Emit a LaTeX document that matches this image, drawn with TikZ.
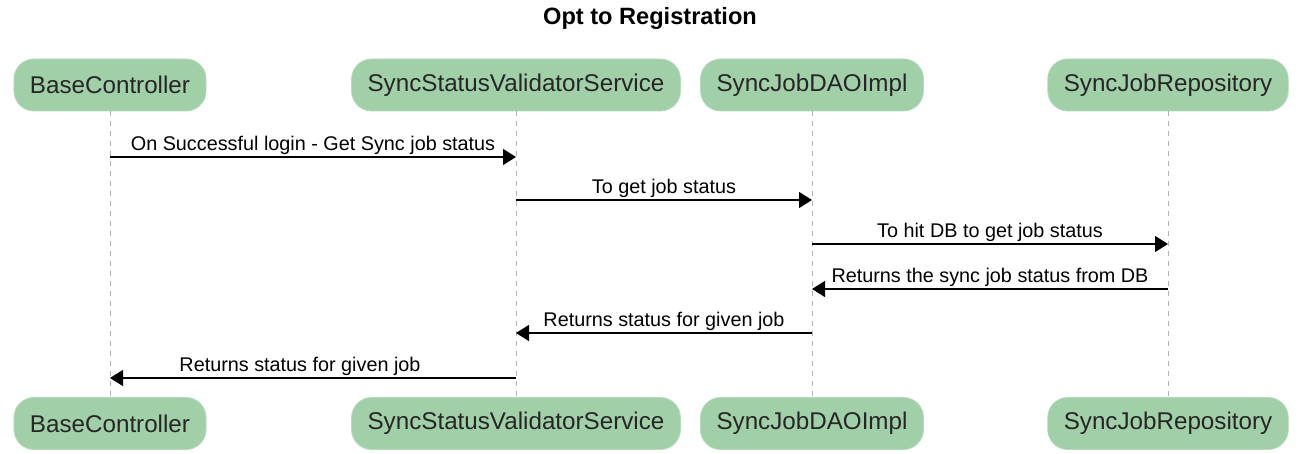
\documentclass[tikz,border=0pt]{standalone}
\usepackage{fontspec}
\setmainfont{Liberation Sans}
\usetikzlibrary{positioning,calc,arrows.meta}
\definecolor{partfill}{RGB}{161,207,168}
\definecolor{partline}{RGB}{180,219,186}
\definecolor{lifegray}{RGB}{178,178,178}
\tikzset{
  partbox/.style={draw=partline, fill=partfill, rounded corners=10pt, inner xsep=8pt,
    minimum height=26pt, font=\fontsize{12.1}{14}\selectfont, text=black!85},
  lifeline/.style={draw=lifegray, line width=0.5pt, dash pattern=on 2.5pt off 2.5pt},
  msgarrow/.style={-{Triangle[length=6.5pt,width=8pt]}, line width=0.7pt},
  msglabel/.style={above, inner sep=1pt, font=\fontsize{9.9}{12}\selectfont},
}

\begin{document}
\begin{tikzpicture}[x=0.5pt, y=-0.5pt]
\useasboundingbox (0,0) rectangle (1302,454);
\node[font=\bfseries\fontsize{11.8}{14}\selectfont] (title) at (650,18) {Opt to Registration};

% participants - top row
\node[partbox] (BC) at (110,85) {BaseController};
\node[partbox] (SSVS) at (516,85) {SyncStatusValidatorService};
\node[partbox] (DAO) at (812,85) {SyncJobDAOImpl};
\node[partbox] (REPO) at (1168,85) {SyncJobRepository};

% participants - bottom row
\node[partbox] (BCb) at (110,423.5) {BaseController};
\node[partbox] (SSVSb) at (516,423.5) {SyncStatusValidatorService};
\node[partbox] (DAOb) at (812,423.5) {SyncJobDAOImpl};
\node[partbox] (REPOb) at (1168,423.5) {SyncJobRepository};

% lifelines
\draw[lifeline] (BC.south) -- (BCb.north);
\draw[lifeline] (SSVS.south) -- (SSVSb.north);
\draw[lifeline] (DAO.south) -- (DAOb.north);
\draw[lifeline] (REPO.south) -- (REPOb.north);

% message rows
\foreach \i/\y in {1/157,2/200,3/244,4/289,5/333,6/378}
  \coordinate (m\i) at (0,\y);

% messages
\draw[msgarrow] (BC |- m1) -- node[msglabel] {On Successful login - Get Sync job status} (SSVS |- m1);
\draw[msgarrow] (SSVS |- m2) -- node[msglabel] {To get job status} (DAO |- m2);
\draw[msgarrow] (DAO |- m3) -- node[msglabel] {To hit DB to get job status} (REPO |- m3);
\draw[msgarrow] (REPO |- m4) -- node[msglabel] {Returns the sync job status from DB} (DAO |- m4);
\draw[msgarrow] (DAO |- m5) -- node[msglabel] {Returns status for given job} (SSVS |- m5);
\draw[msgarrow] (SSVS |- m6) -- node[msglabel, xshift=-6.5pt] {Returns status for given job} (BC |- m6);
\end{tikzpicture}
\end{document}
